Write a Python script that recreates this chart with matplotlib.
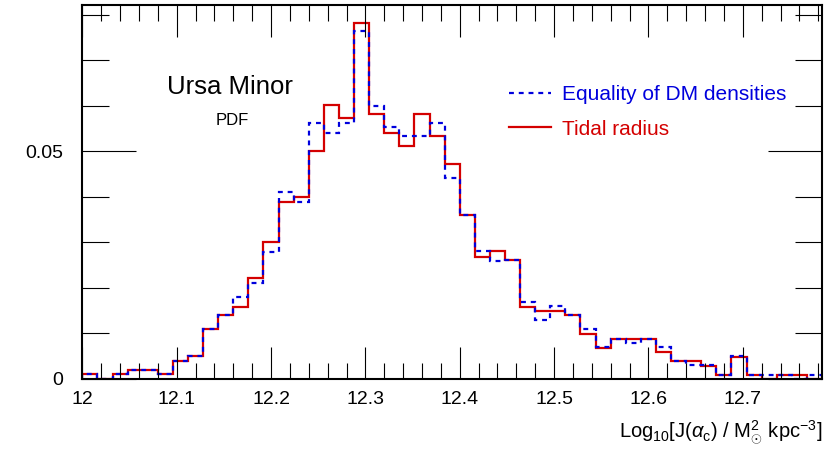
import numpy as np
import matplotlib
matplotlib.use('Agg')
import matplotlib.pyplot as plt
from matplotlib.ticker import MultipleLocator

plt.rcParams['font.family'] = ['Liberation Sans', 'DejaVu Sans']
plt.rcParams['mathtext.fontset'] = 'custom'
plt.rcParams['mathtext.rm'] = 'Liberation Sans'
plt.rcParams['mathtext.it'] = 'Liberation Sans:italic'

# histogram binning (log10 J)
x_min = 12.0
bin_width = 0.016
n_bins = 49

# PDF per bin
equality_dm = [0.001, 0.0, 0.001, 0.002, 0.002, 0.001, 0.004, 0.005, 0.011, 0.014,
               0.0181, 0.021, 0.028, 0.041, 0.039, 0.0562, 0.0541, 0.0562, 0.0765, 0.060,
               0.0553, 0.0533, 0.0533, 0.0562, 0.0441, 0.036, 0.0282, 0.026, 0.0262, 0.017,
               0.013, 0.016, 0.014, 0.011, 0.007, 0.0088, 0.008, 0.0088, 0.007, 0.004,
               0.003, 0.003, 0.0009, 0.005, 0.0009, 0.0009, 0.0009, 0.0, 0.0009]
tidal_radius = [0.001, 0.0, 0.001, 0.002, 0.002, 0.001, 0.004, 0.005, 0.011, 0.014,
                0.0159, 0.0221, 0.030, 0.039, 0.0401, 0.0501, 0.0602, 0.0573, 0.0783, 0.0582,
                0.0541, 0.0511, 0.0582, 0.0533, 0.0472, 0.036, 0.0269, 0.0282, 0.0262, 0.0159,
                0.0149, 0.0149, 0.014, 0.0099, 0.0069, 0.0088, 0.0088, 0.0088, 0.0059, 0.0039,
                0.0039, 0.0029, 0.0009, 0.0049, 0.0009, 0.0, 0.0009, 0.0009, 0.0]

edges = x_min + bin_width * np.arange(n_bins + 1)

fig = plt.figure(figsize=(8.3, 4.57), dpi=100)
ax = fig.add_axes([0.0992, 0.1707, 0.8912, 0.8184])

ax.stairs(tidal_radius, edges, color='#d40000', lw=1.6, label='Tidal radius')
ax.stairs(equality_dm, edges, color='#0000dd', lw=1.6, linestyle=(0, (2.2, 2.2)),
          label='Equality of DM densities')

ax.set_xlim(edges[0], edges[-1])
ax.set_ylim(0, 0.0822)

ax.xaxis.set_major_locator(MultipleLocator(0.1))
ax.xaxis.set_minor_locator(MultipleLocator(0.02))
ax.yaxis.set_major_locator(MultipleLocator(0.05))
ax.yaxis.set_minor_locator(MultipleLocator(0.01))
ax.xaxis.set_major_formatter(lambda v, p: f'{v:g}')
ax.yaxis.set_major_formatter(lambda v, p: f'{v:g}')

ax.tick_params(axis='both', which='both', direction='in', top=True, right=True,
               width=0.8, labelsize=14)
ax.tick_params(axis='x', which='major', length=23, pad=9)
ax.tick_params(axis='x', which='minor', length=11.5)
ax.tick_params(axis='y', which='major', length=39, pad=14)
ax.tick_params(axis='y', which='minor', length=19.5)
for s in ax.spines.values():
    s.set_linewidth(1.5)

ax.text(0.199, 0.78, 'Ursa Minor', transform=ax.transAxes, ha='center', va='center',
        fontsize=18.5)
ax.text(0.202, 0.69, 'PDF', transform=ax.transAxes, ha='center', va='center',
        fontsize=12)

h, l = ax.get_legend_handles_labels()
ax.legend(h[::-1], l[::-1], loc='upper left', bbox_to_anchor=(0.577, 0.786),
          frameon=False, fontsize=15, handlelength=2.0, handletextpad=0.55,
          borderpad=0, borderaxespad=0, labelspacing=0.75, labelcolor='linecolor')

fig.text(822 / 830, 1 - 432 / 457,
         r'Log$_{10}$[J($\alpha_{\rm c}$) / M$^{2}_{\odot}$ kpc$^{-3}$]',
         ha='right', va='center', fontsize=14.5)

fig.savefig('out.png', dpi=100)
